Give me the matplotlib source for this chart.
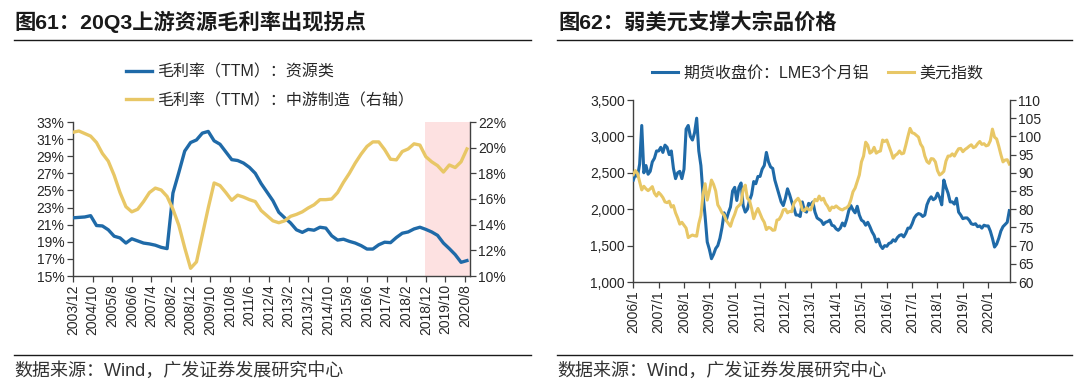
import numpy as np
import pandas as pd
import matplotlib
matplotlib.use('Agg')
import matplotlib.pyplot as plt
from matplotlib.lines import Line2D
from matplotlib.ticker import FuncFormatter

plt.rcParams['font.family'] = ['Liberation Sans', 'Noto Sans CJK SC', 'DejaVu Sans']

# ---------------- data: left chart (quarterly TTM gross margin, %) ----------------
quarter_dates = pd.date_range('2003-12-31', periods=68, freq='QE')
resource_margin = [21.8, 21.85, 21.9, 22.05, 20.9, 20.85, 20.4, 19.65, 19.45, 18.85,
                   19.35, 19.1, 18.85, 18.75, 18.6, 18.35, 18.2, 24.7, 27.1, 29.6,
                   30.6, 30.9, 31.7, 31.9, 30.8, 30.4, 29.5, 28.6, 28.5, 28.2,
                   27.7, 27.0, 25.8, 24.8, 23.8, 22.45, 21.8, 21.2, 20.4, 20.1,
                   20.45, 20.35, 20.7, 20.6, 19.7, 19.2, 19.3, 19.05, 18.85, 18.55,
                   18.15, 18.15, 18.65, 18.95, 18.9, 19.5, 20.0, 20.15, 20.5, 20.7,
                   20.45, 20.15, 19.75, 18.85, 18.2, 17.5, 16.6, 16.8]
midstream_margin = [21.2, 21.3, 21.1, 20.9, 20.4, 19.55, 18.95, 17.85, 16.5, 15.4,
                    15.0, 15.2, 15.8, 16.5, 16.85, 16.7, 16.2, 15.2, 13.95, 12.2,
                    10.6, 11.1, 13.2, 15.3, 17.25, 17.05, 16.5, 15.9, 16.3, 16.15,
                    15.95, 15.8, 15.1, 14.7, 14.3, 14.15, 14.3, 14.65, 14.8, 15.0,
                    15.3, 15.55, 15.95, 15.95, 16.0, 16.5, 17.3, 18.0, 18.8, 19.5,
                    20.1, 20.45, 20.45, 19.85, 19.1, 19.05, 19.7, 19.9, 20.3, 20.2,
                    19.3, 18.9, 18.6, 18.1, 18.65, 18.45, 18.9, 19.9]
left_xticklabels = ['2003/12', '2004/10', '2005/8', '2006/6', '2007/4', '2008/2', '2008/12',
                    '2009/10', '2010/8', '2011/6', '2012/4', '2013/2', '2013/12', '2014/10',
                    '2015/8', '2016/6', '2017/4', '2018/2', '2018/12', '2019/10', '2020/8']
shade_start = '2018/12'
left_legend = ['毛利率（TTM）：资源类', '毛利率（TTM）：中游制造（右轴）']

# ---------------- data: right chart (monthly) ----------------
month_dates = pd.date_range('2006-01-01', periods=179, freq='MS')
lme_al = [2400, 2480, 2450, 2620, 3150, 2500, 2600, 2480, 2520, 2650, 2700, 2800,
          2800, 2850, 2780, 2880, 2850, 2750, 2800, 2560, 2420, 2500, 2520, 2420,
          2550, 3100, 3150, 3000, 2950, 3050, 3250, 2800, 2600, 2200, 1900, 1550,
          1450, 1320, 1380, 1460, 1500, 1600, 1750, 1950, 1850, 1950, 2030, 2250,
          2300, 2120, 2300, 2360, 2050, 1960, 2000, 2120, 2200, 2380, 2350, 2450,
          2450, 2550, 2600, 2780, 2650, 2580, 2560, 2400, 2300, 2200, 2100, 2050,
          2150, 2280, 2200, 2100, 2020, 1920, 1920, 1900, 2100, 1980, 1960, 2080,
          2060, 2100, 1960, 1880, 1860, 1840, 1790, 1820, 1830, 1850, 1780, 1770,
          1730, 1710, 1740, 1810, 1770, 1860, 1980, 2050, 1990, 1950, 2040, 1920,
          1850, 1830, 1780, 1820, 1760, 1690, 1640, 1550, 1590, 1500, 1460, 1500,
          1490, 1530, 1540, 1580, 1560, 1610, 1640, 1650, 1620, 1670, 1740, 1740,
          1800, 1880, 1920, 1940, 1930, 1900, 1920, 2060, 2130, 2170, 2130, 2150,
          2220, 2160, 2060, 2400, 2300, 2220, 2100, 2100, 2070, 2150, 1960, 1920,
          1870, 1880, 1880, 1850, 1800, 1790, 1800, 1760, 1770, 1740, 1780, 1770,
          1770, 1700, 1600, 1480, 1520, 1600, 1700, 1760, 1790, 1820, 1980]
dxy = [89.5, 90.6, 89.8, 87.5, 85.3, 86.3, 85.6, 85.1, 85.6, 86.2, 84.4, 83.6,
       84.6, 84.0, 83.2, 82.0, 81.8, 82.2, 80.6, 81.0, 79.0, 77.6, 75.9, 76.4,
       75.6, 74.8, 72.2, 72.6, 72.9, 72.7, 72.6, 76.0, 78.3, 84.0, 87.0, 82.5,
       85.0, 88.0, 86.8, 85.0, 81.2, 80.2, 79.0, 78.4, 76.9, 76.1, 75.3, 77.2,
       78.6, 80.4, 81.0, 81.6, 85.4, 86.6, 83.0, 82.4, 80.2, 77.4, 79.0, 80.2,
       78.8, 77.4, 76.4, 74.4, 75.0, 74.8, 74.2, 74.3, 77.0, 77.2, 78.2, 79.8,
       80.0, 79.0, 79.4, 79.3, 81.6, 82.4, 83.0, 82.0, 79.8, 79.6, 80.4, 79.9,
       79.8, 81.4, 82.7, 82.3, 83.6, 82.5, 83.0, 81.6, 80.8, 79.6, 80.6, 80.4,
       80.9, 80.4, 80.0, 79.8, 80.2, 80.4, 81.0, 82.6, 84.8, 85.8, 87.6, 89.4,
       93.0, 94.6, 98.4, 97.6, 95.4, 95.8, 97.0, 95.4, 95.8, 96.0, 99.0, 98.6,
       99.0, 97.4, 95.8, 94.0, 94.8, 95.2, 96.0, 95.2, 95.4, 97.6, 100.0, 102.2,
       101.0, 100.8, 100.3, 99.8, 97.9, 97.0, 94.6, 93.1, 92.6, 93.9, 93.8, 93.0,
       90.6, 89.4, 89.8, 90.4, 93.2, 94.6, 94.6, 95.2, 94.6, 95.7, 96.6, 96.7,
       95.8, 96.4, 96.8, 97.3, 97.7, 96.9, 97.2, 98.0, 98.6, 97.8, 98.0, 97.4,
       97.6, 98.8, 102.0, 99.8, 99.3, 97.3, 95.0, 93.0, 93.5, 93.6, 92.4]
right_xticklabels = ['%d/1' % y for y in range(2006, 2021)]
right_legend = ['期货收盘价：LME3个月铝', '美元指数']

# ---------------- styling ----------------
BLUE = '#1f6aa8'
YELLOW = '#e8c766'
PINK = '#fde1e1'
AX_COL = '#404040'
TXT = '#262626'
W, H = 1080, 383


def rect(l, t, r, b):
    return [l / W, 1 - b / H, (r - l) / W, (b - t) / H]


def ym_to_month(s):
    y, m = s.split('/')
    return (int(y) - 2003) * 12 + int(m) - 12


def style_axes(ax):
    ax.spines['top'].set_visible(False)
    for s in ['left', 'right', 'bottom']:
        ax.spines[s].set_color(AX_COL)
        ax.spines[s].set_linewidth(1.0)
    ax.tick_params(axis='both', direction='out', length=4, width=0.9, color=AX_COL,
                   labelsize=10, labelcolor=TXT, pad=2)


fig = plt.figure(figsize=(10.8, 3.83), dpi=100)

# ---------------- left chart ----------------
ax1 = fig.add_axes(rect(72.7, 122, 469.5, 276))
qm = [(d.year - 2003) * 12 + d.month - 12 for d in quarter_dates]
ax1.axvspan(ym_to_month(shade_start) - 0.5, 202.3, color=PINK, lw=0, zorder=0)
l1, = ax1.plot(qm, resource_margin, color=BLUE, lw=2.4, solid_joinstyle='round', zorder=3)
ax1.set_xlim(-0.15, 202.3)
ax1.set_ylim(15, 33)
ax1.set_yticks(np.arange(15, 34, 2))
ax1.yaxis.set_major_formatter(FuncFormatter(lambda v, p: '%d%%' % v))
ax1.set_xticks([ym_to_month(s) for s in left_xticklabels])
ax1.set_xticklabels(left_xticklabels, rotation=90, fontsize=9)
style_axes(ax1)
ax1.spines['right'].set_visible(False)

ax1r = ax1.twinx()
l2, = ax1r.plot(qm, midstream_margin, color=YELLOW, lw=2.4, solid_joinstyle='round', zorder=2)
ax1r.set_ylim(10, 22)
ax1r.set_yticks(np.arange(10, 23, 2))
ax1r.yaxis.set_major_formatter(FuncFormatter(lambda v, p: '%d%%' % v))
style_axes(ax1r)
ax1r.spines['left'].set_visible(False)
ax1r.spines['bottom'].set_visible(False)

fig.legend(handles=[l1, l2], labels=left_legend, loc='upper left',
           bbox_to_anchor=(126 / W, 1 - 64 / H), frameon=False, fontsize=11.5,
           handlelength=1.65, handletextpad=0.3, labelspacing=0.85,
           borderpad=0, borderaxespad=0, labelcolor=TXT)

# ---------------- right chart ----------------
ax2 = fig.add_axes(rect(633.3, 100, 1010, 282))
mx = [d.year + (d.month - 1) / 12 for d in month_dates]
l3, = ax2.plot(mx, lme_al, color=BLUE, lw=2.2, zorder=3)
ax2.set_xlim(2006.0, 2020.86)
ax2.set_ylim(1000, 3500)
ax2.set_yticks(np.arange(1000, 3501, 500))
ax2.yaxis.set_major_formatter(FuncFormatter(lambda v, p: '{:,.0f}'.format(v)))
ax2.set_xticks([int(s.split('/')[0]) for s in right_xticklabels])
ax2.set_xticklabels(right_xticklabels, rotation=90, fontsize=9)
style_axes(ax2)
ax2.spines['right'].set_visible(False)

ax2r = ax2.twinx()
l4, = ax2r.plot(mx, dxy, color=YELLOW, lw=2.2, zorder=2)
ax2r.set_ylim(60, 110)
ax2r.set_yticks(np.arange(60, 111, 5))
style_axes(ax2r)
ax2r.spines['left'].set_visible(False)
ax2r.spines['bottom'].set_visible(False)

fig.legend(handles=[l3, l4], labels=right_legend, loc='upper left', ncol=2,
           bbox_to_anchor=(652 / W, 1 - 66 / H), frameon=False, fontsize=11.5,
           handlelength=1.65, handletextpad=0.3, columnspacing=1.2,
           borderpad=0, borderaxespad=0, labelcolor=TXT)

# ---------------- titles, rules, sources ----------------
fig.text(14 / W, 1 - 22 / H, '图61：20Q3上游资源毛利率出现拐点', fontsize=15.3,
         fontweight='bold', ha='left', va='center', color='#1a1a1a')
fig.text(558 / W, 1 - 22 / H, '图62：弱美元支撑大宗品价格', fontsize=15.3,
         fontweight='bold', ha='left', va='center', color='#1a1a1a')
for x0, x1 in [(14, 531), (557, 1072)]:
    fig.add_artist(Line2D([x0 / W, x1 / W], [1 - 39.5 / H] * 2, color='#1a1a1a', lw=1.0))
    fig.add_artist(Line2D([x0 / W, x1 / W], [1 - 354.5 / H] * 2, color='#1a1a1a', lw=1.0))
for x0 in [14, 557]:
    fig.text(x0 / W, 1 - 371 / H, '数据来源：Wind，广发证券发展研究中心', fontsize=13,
             ha='left', va='center', color='#333333')

fig.savefig('out.png', dpi=100)
